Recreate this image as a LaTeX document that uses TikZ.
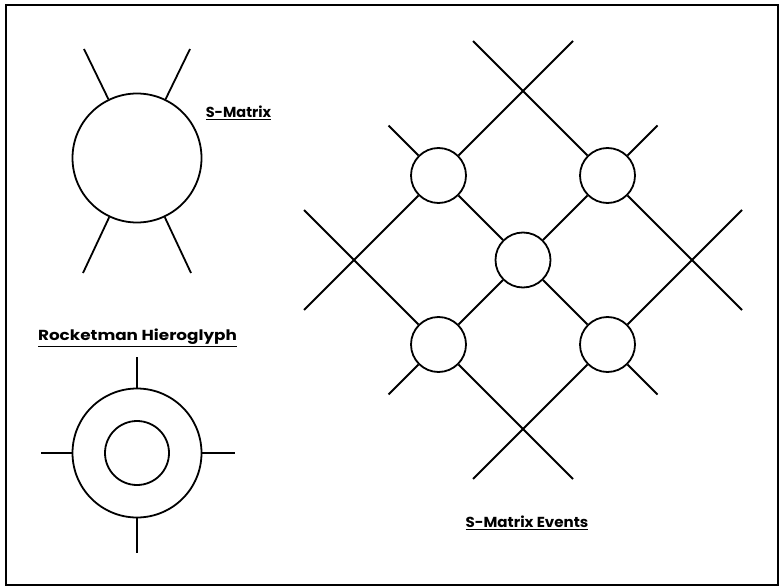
\documentclass[tikz,border=0pt]{standalone}
\usepackage{fontspec}
\setmainfont{Poppins}
\usetikzlibrary{calc}
\begin{document}
\begin{tikzpicture}[x=1pt,y=-1pt,
  stroke/.style={line width=1.8pt},
  bigring/.style={circle,draw,line width=1.8pt,minimum size=129pt,inner sep=0pt},
  smallring/.style={circle,draw,line width=1.8pt,minimum size=64pt,inner sep=0pt},
  vertex/.style={circle,draw,fill=white,line width=1.8pt,minimum size=55pt,inner sep=0pt},
  caption/.style={inner sep=0pt,font=\bfseries\fontsize{14.5}{16}\selectfont}]
\useasboundingbox (0,0) rectangle (781,588);
\draw[line width=2.8pt] (6,5) rectangle (778,585);

% single S-matrix with four legs
\node[bigring] (sm) at (137,158) {};
\coordinate (smNW) at (84,49);
\coordinate (smNE) at (190,49);
\coordinate (smSW) at (83,273);
\coordinate (smSE) at (191,273);
\foreach \e in {smNW,smNE,smSW,smSE} \draw[stroke] (sm) -- (\e);
\node[caption] (smlabel) at (238.5,113) {\underline{S-Matrix}};

% rocketman hieroglyph
\node[caption] (rklabel) at (137.5,337.5) {\scalebox{1.16}[1]{\underline{Rocketman Hieroglyph}}};
\node[bigring] (rk) at (137,453) {};
\node[smallring] (rkin) at (137,453) {};
\coordinate (rkN) at (137,357);
\coordinate (rkS) at (137,553);
\coordinate (rkW) at (41,453);
\coordinate (rkE) at (235,453);
\foreach \e in {rkN,rkS,rkW,rkE} \draw[stroke] (rk) -- (\e);

% lattice of S-matrix events
\coordinate (tx) at (523,91);
\node[vertex] (c1) at (438.5,175.5) {};
\node[vertex] (c2) at (607.5,175.5) {};
\coordinate (lx) at (354,260);
\node[vertex] (c3) at (523,260) {};
\coordinate (rx) at (692,260);
\node[vertex] (c4) at (438.5,344.5) {};
\node[vertex] (c5) at (607.5,344.5) {};
\coordinate (bx) at (523,429);

\coordinate (a1) at ($(lx)+(-50,50)$);
\coordinate (a2) at ($(tx)+(50,-50)$);
\coordinate (b1) at ($(c4)+(-50,50)$);
\coordinate (b2) at ($(c2)+(50,-50)$);
\coordinate (d1) at ($(bx)+(-50,50)$);
\coordinate (d2) at ($(rx)+(50,-50)$);
\coordinate (e1) at ($(tx)+(-50,-50)$);
\coordinate (e2) at ($(rx)+(50,50)$);
\coordinate (f1) at ($(c1)+(-50,-50)$);
\coordinate (f2) at ($(c5)+(50,50)$);
\coordinate (g1) at ($(lx)+(-50,-50)$);
\coordinate (g2) at ($(bx)+(50,50)$);

\draw[stroke] (a1) -- (lx) -- (c1);
\draw[stroke] (c1) -- (tx) -- (a2);
\draw[stroke] (b1) -- (c4);
\draw[stroke] (c4) -- (c3);
\draw[stroke] (c3) -- (c2);
\draw[stroke] (c2) -- (b2);
\draw[stroke] (d1) -- (bx) -- (c5);
\draw[stroke] (c5) -- (rx) -- (d2);
\draw[stroke] (e1) -- (tx) -- (c2);
\draw[stroke] (c2) -- (rx) -- (e2);
\draw[stroke] (f1) -- (c1);
\draw[stroke] (c1) -- (c3);
\draw[stroke] (c3) -- (c5);
\draw[stroke] (c5) -- (f2);
\draw[stroke] (g1) -- (lx) -- (c4);
\draw[stroke] (c4) -- (bx) -- (g2);

\node[caption] (evlabel) at (527,522.5) {\scalebox{1.04}[1]{\underline{S-Matrix Events}}};
\end{tikzpicture}
\end{document}
